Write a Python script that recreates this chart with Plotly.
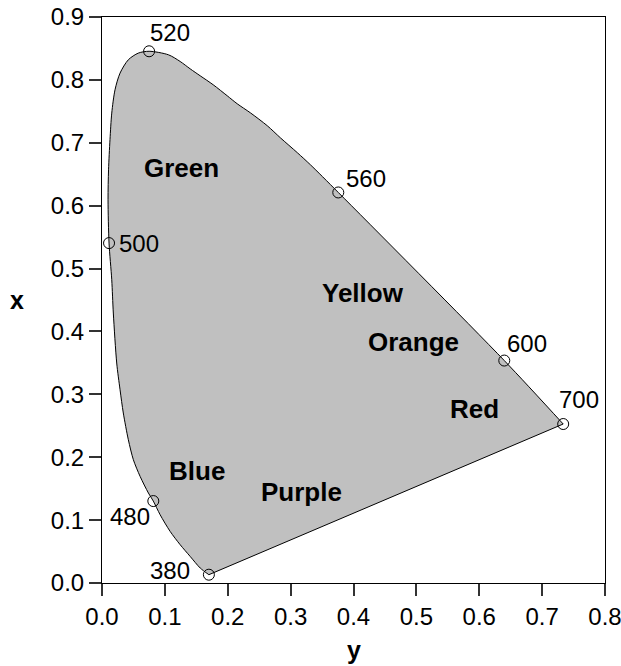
import plotly.graph_objects as go

# Spectral locus (horizontal axis "y", vertical axis "x")
locus_y = [0.170, 0.1562, 0.1402, 0.1243, 0.1084, 0.0924, 0.0816, 0.0738, 0.0606,
           0.0499, 0.0419, 0.0339, 0.0287, 0.0234, 0.0180, 0.0155, 0.0112, 0.0096,
           0.0104, 0.0127, 0.0155, 0.0207, 0.0287, 0.0419, 0.0578, 0.0749, 0.1057,
           0.1243, 0.1402, 0.1562, 0.1769, 0.1992, 0.2151, 0.2359, 0.2630, 0.2837,
           0.3108, 0.3315, 0.3758, 0.6398, 0.7335]
locus_x = [0.0132, 0.0238, 0.0423, 0.0609, 0.0820, 0.1086, 0.1303, 0.1431, 0.1695,
           0.1960, 0.2278, 0.2703, 0.3073, 0.3498, 0.4293, 0.4822, 0.5405, 0.6094,
           0.6570, 0.7050, 0.7472, 0.7843, 0.8108, 0.8320, 0.8426, 0.8455, 0.8399,
           0.8293, 0.8176, 0.8065, 0.7922, 0.7747, 0.7620, 0.7477, 0.7270, 0.7079,
           0.6841, 0.6650, 0.6210, 0.3537, 0.2528]

# Marked wavelengths
wl_labels = ["380", "480", "500", "520", "560", "600", "700"]
wl_y = [0.170, 0.0816, 0.0112, 0.0749, 0.3758, 0.6398, 0.7335]
wl_x = [0.0132, 0.1303, 0.5405, 0.8455, 0.6210, 0.3537, 0.2528]
wl_label_y = [0.1084, 0.0441, 0.0595, 0.108, 0.420, 0.6757, 0.7594]
wl_label_x = [0.020, 0.105, 0.5405, 0.8748, 0.644, 0.3816, 0.2914]

# Colour region names
region_names = ["Green", "Yellow", "Orange", "Red", "Blue", "Purple"]
region_y = [0.126, 0.415, 0.4948, 0.593, 0.151, 0.3169]
region_x = [0.660, 0.4615, 0.383, 0.277, 0.1775, 0.144]

x_ticks = [0.0, 0.1, 0.2, 0.3, 0.4, 0.5, 0.6, 0.7, 0.8]
y_ticks = [0.0, 0.1, 0.2, 0.3, 0.4, 0.5, 0.6, 0.7, 0.8, 0.9]

FONT = "Liberation Sans, Arial, sans-serif"

fig = go.Figure()
fig.add_trace(go.Scatter(
    x=locus_y, y=locus_x, mode="lines", fill="toself", fillcolor="#c0c0c0",
    line=dict(color="black", width=1, shape="spline", smoothing=0.8),
    hoverinfo="skip", showlegend=False))
# purple line (700 -> 380)
fig.add_trace(go.Scatter(
    x=[locus_y[-1], locus_y[0]], y=[locus_x[-1], locus_x[0]], mode="lines",
    line=dict(color="black", width=1), showlegend=False))
fig.add_trace(go.Scatter(
    x=wl_y, y=wl_x, mode="markers",
    marker=dict(symbol="circle-open", size=11, color="black", line=dict(width=1)),
    showlegend=False))

for t, xx, yy in zip(wl_labels, wl_label_y, wl_label_x):
    fig.add_annotation(x=xx, y=yy, text=t, showarrow=False, xanchor="center",
                       yanchor="middle", font=dict(family=FONT, size=24, color="black"))
for t, xx, yy in zip(region_names, region_y, region_x):
    fig.add_annotation(x=xx, y=yy, text="<b>" + t + "</b>", showarrow=False,
                       xanchor="center", yanchor="middle",
                       font=dict(family=FONT, size=26, color="black"))

# axis titles
fig.add_annotation(xref="paper", yref="paper", x=0.5, y=-0.119, text="<b>y</b>",
                   showarrow=False, xanchor="center", yanchor="middle",
                   font=dict(family=FONT, size=25, color="black"))
fig.add_annotation(xref="paper", yref="paper", x=-0.168, y=0.5, text="<b>x</b>",
                   showarrow=False, xanchor="center", yanchor="middle",
                   font=dict(family=FONT, size=25, color="black"))

axis_common = dict(showgrid=False, zeroline=False, showline=True, linecolor="black",
                   linewidth=1, mirror=True, ticks="outside", ticklen=12,
                   tickcolor="#333", tickwidth=2, tickformat=".1f", automargin=False,
                   ticklabeloverflow="allow",
                   tickfont=dict(family=FONT, size=24, color="black"))
fig.update_xaxes(range=[0, 0.8], tickvals=x_ticks, **axis_common)
fig.update_yaxes(range=[0, 0.9], tickvals=y_ticks, **axis_common)

fig.update_layout(width=621, height=666, margin=dict(l=102, r=16, t=17, b=83),
                  plot_bgcolor="white", paper_bgcolor="white",
                  font=dict(family=FONT))
fig.write_html("out.html", config={"displayModeBar": False},
               post_script="document.body.style.margin='0';"
                           "document.body.style.overflow='hidden';")
